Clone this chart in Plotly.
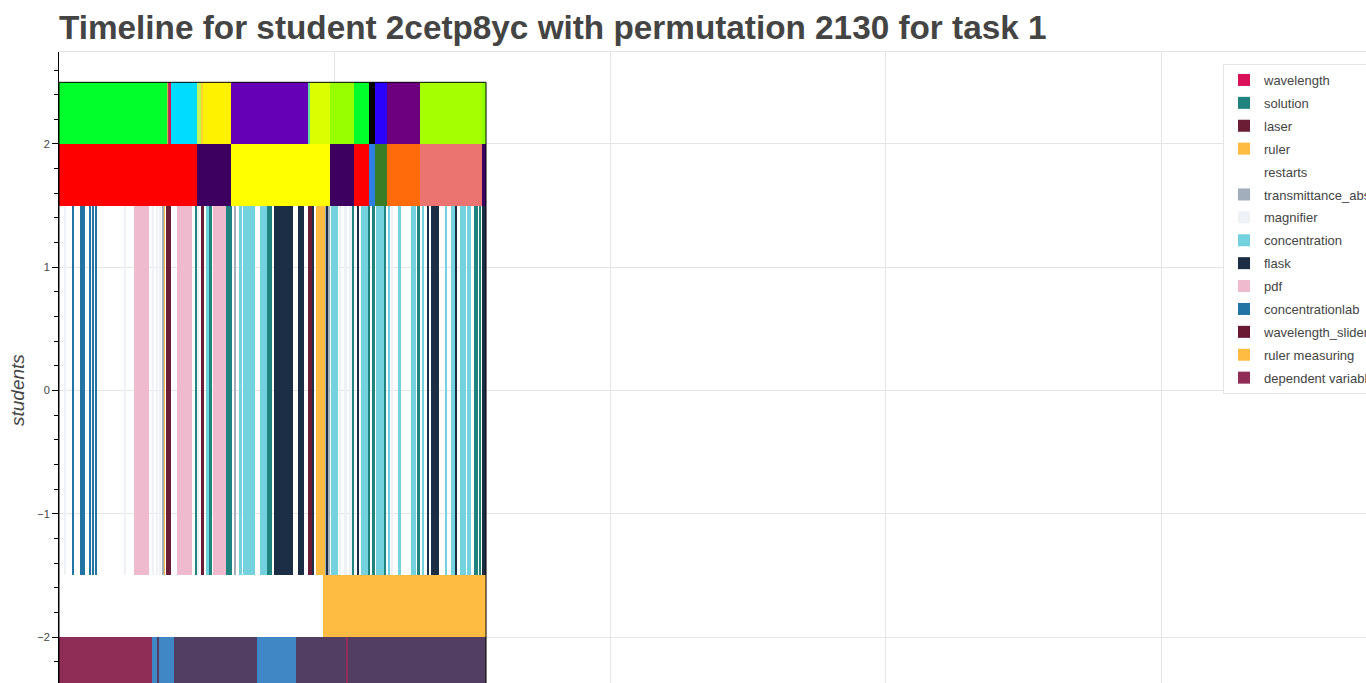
import plotly.graph_objects as go

# ---------------- data (time in seconds from session start) ----------------
SESSION_END = 775

# top band: activity phases (contiguous segments)
phase_a_starts = [0, 196, 198, 204, 251, 255, 259, 262, 313, 451, 456, 492, 535, 563, 574, 596, 655, 768]
phase_a_ends   = [196, 198, 201, 251, 255, 259, 262, 313, 451, 456, 492, 535, 563, 574, 596, 655, 768, 775]

# second band: coarser phases
phase_b_starts = [0, 251, 313, 492, 535, 563, 574, 596, 655, 768]
phase_b_ends   = [251, 313, 492, 535, 563, 574, 596, 655, 768, 775]

# middle band: interactions (start, end)
wavelength_spans        = [(201, 204)]
solution_spans          = [(247, 250), (273, 278), (303, 314), (378, 387), (531, 535), (562, 564),
                           (568, 574), (590, 594), (649, 655), (754, 760), (762, 766)]
laser_spans             = [(194, 203), (451, 459)]
ruler_spans             = [(190, 192), (468, 471), (472, 479), (480, 481)]
restarts_spans          = [(0, 480)]
transmittance_spans     = [(187, 189), (318, 320), (483, 485), (489, 492)]
magnifier_spans         = [(10, 12), (119, 121), (170, 172), (177, 180), (183, 185), (251, 253),
                           (509, 511), (519, 522), (528, 531), (602, 606)]
concentration_spans     = [(266, 272), (326, 332), (334, 355), (364, 377), (494, 506), (548, 560),
                           (575, 589), (597, 601), (615, 620), (639, 648), (660, 663), (701, 705),
                           (711, 719), (728, 739), (740, 747)]
flask_spans             = [(390, 425), (434, 445), (460, 463), (486, 488), (541, 544), (668, 670),
                           (676, 690), (720, 723), (768, 775)]
pdf_spans               = [(137, 163), (215, 242), (279, 303)]
concentrationlab_spans  = [(25, 28), (38, 48), (56, 58), (61, 63), (66, 68)]
wavelength_slider_spans = [(258, 263)]
ruler_measuring_spans   = [(480, 775)]
dependent_var_spans     = [(0, 169), (520, 524)]

# bottom band: other variables (start, end)
variable_blue_spans   = [(169, 179), (182, 209), (359, 430)]
variable_purple_spans = [(179, 182), (209, 359), (430, 520), (524, 775)]

# ---------------- styles / layout ----------------
ROWS = {  # center, height
    "phase_a": (2.25, 0.5),
    "phase_b": (1.75, 0.5),
    "actions": (0.0, 3.0),
    "measure": (-1.75, 0.5),
    "vars": (-2.25, 0.5),
}
PHASE_A_COLORS = ["#00ff2b", "#d8b04a", "#a04060", "#00dcff", "#c6f25e", "#b8ff36", "#ffd23c",
                  "#fff200", "#6600b6", "#5fe0a0", "#dcff00", "#97ff00", "#00ff2b", "#000000",
                  "#2a00ff", "#6d007f", "#a6ff00", "#8cff00"]
PHASE_B_COLORS = ["#ff0000", "#3d0061", "#ffff00", "#3d0061", "#ff0000", "#2f7fe3", "#3a7d27",
                  "#ff6a0a", "#eb7370", "#3d0061"]

fig = go.Figure()


def add_bars(name, starts, ends, row, color, showlegend=True):
    c, h = ROWS[row]
    fig.add_trace(go.Bar(
        name=name, orientation="h",
        y=[c] * len(starts), x=[e - s for s, e in zip(starts, ends)], base=list(starts),
        width=[h] * len(starts),
        marker=dict(color=color, line=dict(width=0)),
        showlegend=showlegend, legendgroup=name,
    ))


def add_spans(name, spans, row, color, showlegend=True):
    add_bars(name, [s for s, _ in spans], [e for _, e in spans], row, color, showlegend)


# unlabeled bands
add_bars("phase_a", phase_a_starts, phase_a_ends, "phase_a", PHASE_A_COLORS, False)
add_bars("phase_b", phase_b_starts, phase_b_ends, "phase_b", PHASE_B_COLORS, False)
add_spans("variable_blue", variable_blue_spans, "vars", "#3f88c5", False)
add_spans("variable_purple", variable_purple_spans, "vars", "#523d63", False)

# legend entries (in legend order)
add_spans("wavelength", wavelength_spans, "phase_a", "#d81159")
add_spans("solution", solution_spans, "actions", "#218380")
add_spans("laser", laser_spans, "actions", "#6b1d35")
add_spans("ruler", ruler_spans, "actions", "#ffbc42")
add_spans("restarts", restarts_spans, "measure", "#ffffff")
add_spans("transmittance_absorbance", transmittance_spans, "actions", "#a2aebb")
add_spans("magnifier", magnifier_spans, "actions", "#eef2f6")
add_spans("concentration", concentration_spans, "actions", "#73d2de")
add_spans("flask", flask_spans, "actions", "#1c2e45")
add_spans("pdf", pdf_spans, "actions", "#efbacd")
add_spans("concentrationlab", concentrationlab_spans, "actions", "#2274a5")
add_spans("wavelength_slider", wavelength_slider_spans, "actions", "#6a1b33")
add_spans("ruler measuring", ruler_measuring_spans, "measure", "#ffbc42")
add_spans("dependent variable", dependent_var_spans, "vars", "#8f2d56")

W, H = 1366, 683
L, T = 59, 52
PW, PH = W - L, H - T

fig.add_shape(type="rect", xref="x", yref="y", x0=0, x1=SESSION_END, y0=-2.5, y1=2.5,
              line=dict(color="black", width=1), layer="above")

fig.add_annotation(text="students", xref="paper", yref="paper",
                   x=(17 - L) / PW, y=(H - 390) / PH, xanchor="center", yanchor="middle",
                   textangle=-90, showarrow=False,
                   font=dict(family="Liberation Sans, Arial, sans-serif", size=19,
                             color="#444444", style="italic"))

fig.update_layout(
    width=W, height=H,
    margin=dict(l=L, r=0, t=T, b=0, pad=0, autoexpand=False),
    plot_bgcolor="white", paper_bgcolor="white",
    barmode="overlay", bargap=0,
    title=dict(text="Timeline for student 2cetp8yc with permutation 2130 for task 1",
               xref="container", x=L / W, xanchor="left",
               yref="container", y=1 - 27.5 / H, yanchor="middle",
               font=dict(family="Liberation Sans, Arial, sans-serif", size=33.3,
                         color="#444444", weight="bold")),
    legend=dict(x=(1223 - L) / PW, xanchor="left", y=(H - 64) / PH, yanchor="top",
                bgcolor="white", bordercolor="#e5e5e5", borderwidth=1,
                font=dict(family="Liberation Sans, Arial, sans-serif", size=13, color="#444444"),
                traceorder="grouped", tracegroupgap=3),
    xaxis=dict(range=[0, PW * 500 / 275.5], tick0=0, dtick=500, showgrid=True,
               gridcolor="#e5e5e5", showticklabels=False, ticks="", zeroline=False,
               showline=True, mirror=True, linecolor="#e5e5e5"),
    yaxis=dict(range=[-2.373, 2.746], tick0=0, dtick=1, showgrid=True, gridcolor="#e5e5e5",
               zeroline=False, showline=True, linecolor="black", linewidth=1,
               ticks="outside", ticklen=6, tickcolor="black",
               tickfont=dict(family="Liberation Sans, Arial, sans-serif", size=11, color="#444444"),
               minor=dict(dtick=0.2, ticks="outside", ticklen=4, tickcolor="black", showgrid=False)),
)

fig.write_html("out.html", config={"displayModeBar": False},
               post_script="document.body.style.margin='0';document.body.style.overflow='hidden';")
